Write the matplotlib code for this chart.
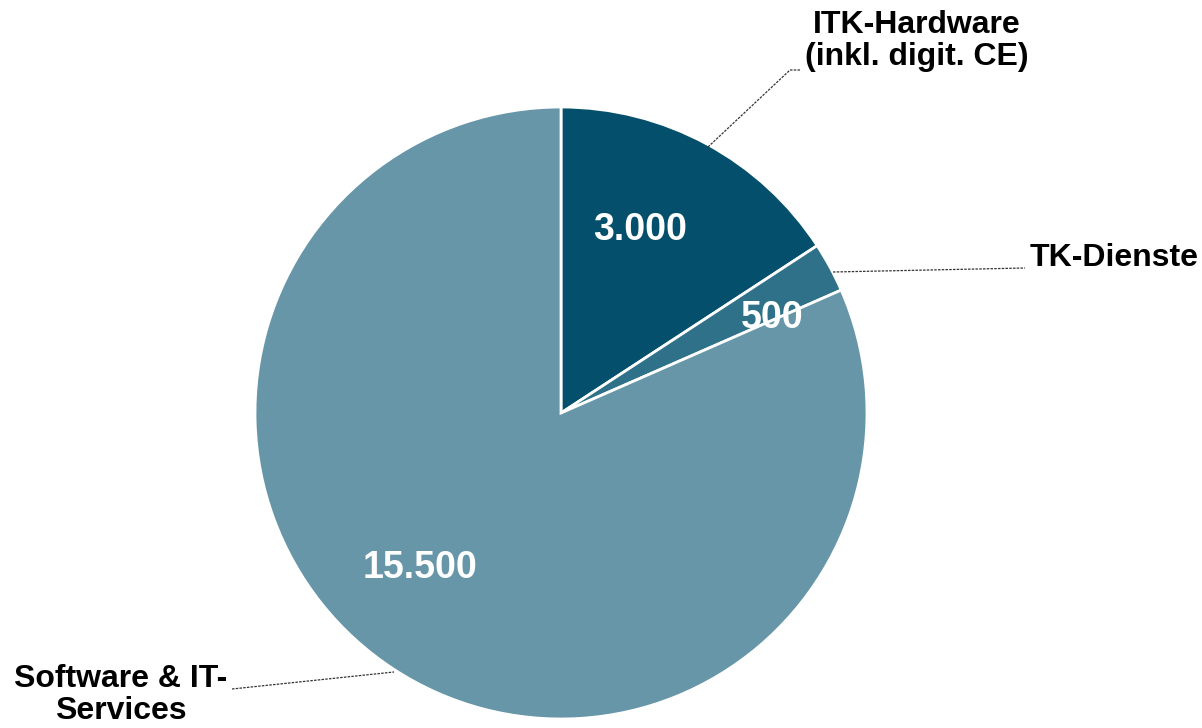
import matplotlib
matplotlib.use("Agg")
import matplotlib.pyplot as plt

# data
categories = ["ITK-Hardware\n(inkl. digit. CE)", "TK-Dienste", "Software & IT-\nServices"]
values = [3000, 500, 15500]
colors = ["#04506C", "#2F7189", "#6796A8"]

plt.rcParams["font.family"] = ["Liberation Sans", "DejaVu Sans"]

W, H = 1202, 728
fig = plt.figure(figsize=(W / 100, H / 100), dpi=100)
ax = fig.add_axes([0, 0, 1, 1])

cx, cy, r = 561, H - 413, 306
wedges, _ = ax.pie(values, colors=colors, startangle=90, counterclock=False,
                   center=(cx, cy), radius=r, frame=True,
                   wedgeprops=dict(edgecolor="white", linewidth=2))
ax.set_xlim(0, W)
ax.set_ylim(0, H)
ax.set_aspect("equal")
ax.axis("off")

def de_fmt(v):
    return f"{v:,}".replace(",", ".")

# value labels (pixel positions, y from top)
val_pos = [(640, 230), (772, 318), (420, 568)]
for v, (x, y) in zip(values, val_pos):
    ax.text(x, H - y, de_fmt(v), color="white", fontsize=27, fontweight="bold",
            ha="center", va="center")

# category labels
lab_pos = [(917, 41, "center"), (1030, 258, "left"), (121, 695, "center")]
for lab, (x, y, ha) in zip(categories, lab_pos):
    ax.text(x, H - y, lab, color="black", fontsize=23, fontweight="bold",
            ha=ha, va="center", linespacing=1.12)

# leader lines
leaders = [
    [(708, 147), (790, 70), (800, 70)],
    [(833, 272), (1025, 268)],
    [(232, 689), (394, 672)],
]
for pts in leaders:
    xs = [p[0] for p in pts]
    ys = [H - p[1] for p in pts]
    ax.plot(xs, ys, color="#333333", linewidth=0.9, linestyle=(0, (2, 1)))

fig.savefig("out.png", dpi=100)
